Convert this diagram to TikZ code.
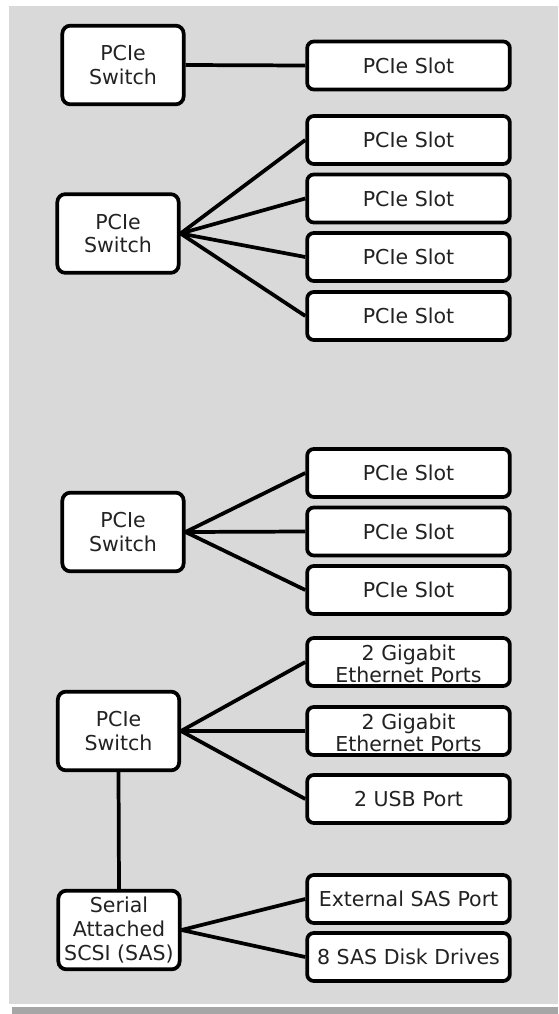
\documentclass[tikz,border=0pt]{standalone}
\usepackage{fontspec}
\setmainfont{DejaVu Sans}
\definecolor{panelgray}{HTML}{D9D9D9}
\definecolor{shadowgray}{HTML}{A6A6A6}
\definecolor{inkgray}{HTML}{222222}
\begin{document}
\begin{tikzpicture}[x=0.75pt,y=-0.75pt,
  box/.style={draw=black, line width=2.8pt, fill=white, rounded corners=6pt,
    text=inkgray, align=center, inner sep=0pt,
    font=\fontsize{15.4pt}{17.8pt}\selectfont},
  switchbox/.style={box, minimum width=91pt, minimum height=59pt},
  slotbox/.style={box, minimum width=152pt, minimum height=36pt, rounded corners=5pt},
  twoline/.style={font=\fontsize{15.4pt}{16.5pt}\selectfont, yshift=-1.5pt},
  conn/.style={draw=black, line width=2.8pt}]
\useasboundingbox (0,0) rectangle (558,1014);
% page panel and its bottom shadow strip
\fill[panelgray] (9,6) rectangle (558,1004);
\fill[shadowgray] (12,1007) rectangle (558,1014);

% switches and controllers
\node[switchbox] (sw1) at (123,65) {PCIe\\Switch};
\node[switchbox] (sw2) at (118,233.5) {PCIe\\Switch};
\node[switchbox] (sw3) at (123,532) {PCIe\\Switch};
\node[switchbox] (sw4) at (118.5,731) {PCIe\\Switch};
\node[switchbox] (sas) at (119,930) {Serial\\Attached\\SCSI (SAS)};

% endpoints
\node[slotbox] (s1) at (408.5,65.5) {PCIe Slot};
\node[slotbox] (s2) at (408.5,140) {PCIe Slot};
\node[slotbox] (s3) at (408.5,198.5) {PCIe Slot};
\node[slotbox] (s4) at (408.5,257) {PCIe Slot};
\node[slotbox] (s5) at (408.5,316) {PCIe Slot};
\node[slotbox] (s6) at (408.5,473) {PCIe Slot};
\node[slotbox] (s7) at (408.5,531.5) {PCIe Slot};
\node[slotbox] (s8) at (408.5,590) {PCIe Slot};
\node[slotbox] (eth1) at (408.5,662) {};
\node[slotbox] (eth2) at (408.5,731) {};
\node[twoline, text=inkgray, align=center, inner sep=0pt] (eth1t) at (eth1.center) {2 Gigabit\\Ethernet Ports};
\node[twoline, text=inkgray, align=center, inner sep=0pt] (eth2t) at (eth2.center) {2 Gigabit\\Ethernet Ports};
\node[slotbox] (usb) at (408.5,799) {2 USB Port};
\node[slotbox] (ext) at (408.5,899) {External SAS Port};
\node[slotbox] (disk) at (408.5,957) {8 SAS Disk Drives};

% links
\draw[conn] (sw1.east) -- (s1.west);
\foreach \t in {s2,s3,s4,s5} \draw[conn] (sw2.east) -- (\t.west);
\foreach \t in {s6,s7,s8} \draw[conn] (sw3.east) -- (\t.west);
\foreach \t in {eth1,eth2,usb} \draw[conn] (sw4.east) -- (\t.west);
\draw[conn] (sw4.south) -- (sas.north);
\foreach \t in {ext,disk} \draw[conn] (sas.east) -- (\t.west);
\end{tikzpicture}
\end{document}
